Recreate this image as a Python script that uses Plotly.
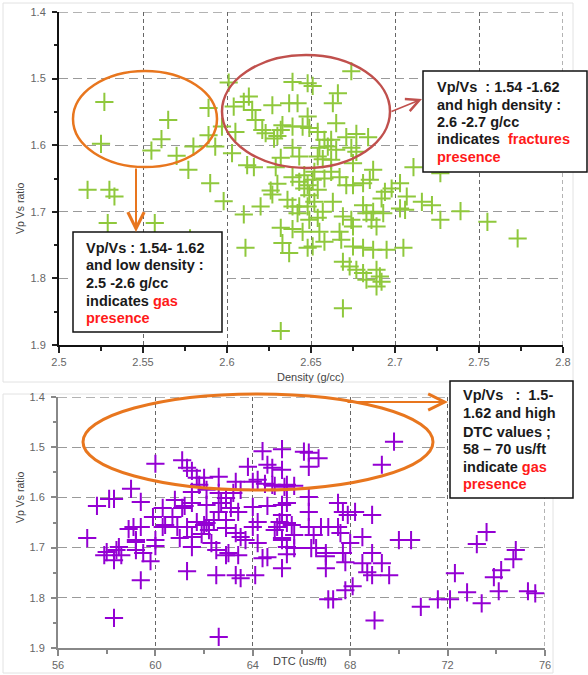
import plotly.graph_objects as go

# ---------------- data ----------------
density = [2.527, 2.525, 2.565, 2.561, 2.555, 2.570, 2.577, 2.580, 2.589, 2.589,
           2.593, 2.590, 2.597, 2.601, 2.604, 2.605, 2.603, 2.517, 2.530, 2.533,
           2.529, 2.557, 2.578, 2.561, 2.632, 2.598, 2.610, 2.611, 2.620, 2.627,
           2.626, 2.632, 2.633, 2.637, 2.639, 2.630, 2.639, 2.674, 2.639, 2.648,
           2.651, 2.666, 2.663, 2.613, 2.610, 2.615, 2.627, 2.637, 2.642, 2.648,
           2.617, 2.633, 2.639, 2.645, 2.649, 2.665, 2.621, 2.623, 2.632, 2.630,
           2.628, 2.654, 2.658, 2.662, 2.671, 2.677, 2.684, 2.655, 2.660, 2.665,
           2.674, 2.677, 2.632, 2.639, 2.643, 2.654, 2.657, 2.662, 2.675, 2.612,
           2.616, 2.629, 2.687, 2.645, 2.648, 2.651, 2.658, 2.668, 2.667, 2.655,
           2.639, 2.643, 2.648, 2.651, 2.654, 2.649, 2.652, 2.648, 2.643, 2.642,
           2.649, 2.654, 2.657, 2.663, 2.667, 2.671, 2.675, 2.681, 2.685, 2.669,
           2.674, 2.675, 2.681, 2.683, 2.686, 2.689, 2.687, 2.693, 2.675, 2.681,
           2.687, 2.695, 2.705, 2.669, 2.673, 2.677, 2.681, 2.689, 2.691, 2.689,
           2.692, 2.683, 2.694, 2.698, 2.703, 2.703, 2.692, 2.755, 2.773, 2.739,
           2.727, 2.722, 2.716, 2.707, 2.706, 2.669, 2.727, 2.711, 2.646, 2.652,
           2.658, 2.662, 2.636, 2.646]
vpvs_density = [1.535, 1.598, 1.562, 1.591, 1.608, 1.616, 1.637, 1.602, 1.544, 1.585,
                1.602, 1.657, 1.572, 1.506, 1.542, 1.580, 1.612, 1.667, 1.667, 1.677,
                1.717, 1.717, 1.740, 1.841, 1.879, 1.684, 1.704, 1.754, 1.692, 1.674,
                1.668, 1.724, 1.747, 1.762, 1.726, 1.658, 1.692, 1.489, 1.505, 1.507,
                1.511, 1.522, 1.537, 1.527, 1.535, 1.547, 1.540, 1.537, 1.537, 1.557,
                1.562, 1.570, 1.572, 1.572, 1.574, 1.567, 1.577, 1.582, 1.577, 1.586,
                1.590, 1.580, 1.592, 1.592, 1.588, 1.583, 1.588, 1.604, 1.602, 1.607,
                1.604, 1.610, 1.619, 1.604, 1.617, 1.617, 1.621, 1.622, 1.627, 1.630,
                1.633, 1.633, 1.637, 1.730, 1.754, 1.752, 1.745, 1.742, 1.730, 1.730,
                1.648, 1.655, 1.660, 1.652, 1.667, 1.675, 1.685, 1.692, 1.692, 1.702,
                1.712, 1.709, 1.700, 1.685, 1.648, 1.660, 1.660, 1.657, 1.652, 1.707,
                1.712, 1.722, 1.690, 1.702, 1.712, 1.722, 1.700, 1.702, 1.752, 1.754,
                1.757, 1.757, 1.754, 1.775, 1.782, 1.787, 1.792, 1.787, 1.797, 1.812,
                1.805, 1.802, 1.670, 1.665, 1.657, 1.695, 1.680, 1.715, 1.740, 1.699,
                1.712, 1.690, 1.685, 1.677, 1.697, 1.845, 1.642, 1.633, 1.645, 1.640,
                1.650, 1.640, 1.682, 1.665]

dtc = [57.6, 58.1, 58.3, 59.0, 59.4, 60.0, 61.1, 61.3, 61.5, 61.7,
       62.0, 62.6, 61.8, 63.8, 64.4, 65.2, 64.6, 64.8, 65.2, 63.3,
       64.2, 64.5, 64.9, 65.3, 65.7, 61.5, 62.1, 62.6, 63.2, 62.9,
       63.5, 60.8, 61.1, 61.2, 60.3, 59.9, 60.7, 61.5, 62.1, 62.6,
       62.7, 63.1, 63.4, 64.0, 64.6, 65.2, 65.2, 62.4, 62.9, 62.1,
       61.7, 64.2, 64.0, 65.0, 65.4, 59.1, 59.4, 60.3, 60.9, 61.3,
       62.0, 62.9, 57.2, 58.9, 59.2, 60.0, 60.4, 61.0, 61.5, 61.9,
       62.2, 63.3, 63.5, 63.7, 57.9, 58.4, 58.6, 59.2, 59.5, 60.0,
       61.5, 62.3, 63.0, 63.4, 58.0, 58.3, 58.5, 59.2, 59.8, 59.4,
       58.3, 62.6, 61.3, 62.5, 63.3, 63.5, 64.1, 62.5, 62.9, 64.2,
       64.4, 64.6, 65.2, 65.4, 65.7, 65.2, 69.8, 69.3, 66.1, 66.3,
       66.7, 66.3, 65.4, 66.3, 67.5, 68.2, 68.9, 67.7, 67.9, 66.3,
       65.4, 65.1, 65.6, 66.3, 66.8, 67.1, 67.5, 67.6, 66.5, 65.7,
       64.9, 65.2, 68.5, 70.0, 70.5, 68.0, 66.4, 67.0, 67.7, 68.9,
       65.4, 73.6, 73.2, 74.8, 74.7, 74.2, 73.9, 72.3, 72.8, 74.1,
       75.3, 75.6, 73.4, 72.1, 71.6, 70.9, 69.0, 68.1, 67.8, 67.3,
       67.1, 69.3, 69.6, 68.9, 68.5, 68.7, 67.8, 67.0, 67.0, 66.6,
       64.0, 64.8]
vpvs_dtc = [1.617, 1.603, 1.603, 1.583, 1.609, 1.533, 1.526, 1.541, 1.547, 1.561,
            1.561, 1.559, 1.575, 1.539, 1.508, 1.504, 1.535, 1.541, 1.545, 1.569,
            1.565, 1.573, 1.577, 1.579, 1.577, 1.589, 1.585, 1.591, 1.591, 1.601,
            1.585, 1.605, 1.621, 1.617, 1.621, 1.639, 1.639, 1.611, 1.615, 1.629,
            1.611, 1.621, 1.629, 1.619, 1.617, 1.615, 1.635, 1.645, 1.645, 1.651,
            1.649, 1.649, 1.659, 1.659, 1.651, 1.659, 1.659, 1.659, 1.659, 1.659,
            1.655, 1.661, 1.681, 1.663, 1.685, 1.685, 1.655, 1.681, 1.679, 1.673,
            1.665, 1.671, 1.679, 1.685, 1.715, 1.705, 1.715, 1.705, 1.711, 1.697,
            1.699, 1.691, 1.711, 1.715, 1.709, 1.725, 1.699, 1.689, 1.727, 1.765,
            1.840, 1.878, 1.747, 1.755, 1.755, 1.761, 1.755, 1.705, 1.715, 1.691,
            1.721, 1.719, 1.741, 1.713, 1.701, 1.681, 1.489, 1.535, 1.509, 1.511,
            1.522, 1.539, 1.575, 1.599, 1.611, 1.629, 1.635, 1.629, 1.635, 1.629,
            1.611, 1.649, 1.655, 1.659, 1.659, 1.659, 1.659, 1.671, 1.675, 1.675,
            1.665, 1.685, 1.679, 1.685, 1.685, 1.691, 1.701, 1.711, 1.711, 1.711,
            1.699, 1.669, 1.693, 1.705, 1.723, 1.745, 1.759, 1.751, 1.789, 1.787,
            1.787, 1.791, 1.811, 1.803, 1.803, 1.818, 1.845, 1.777, 1.785, 1.803,
            1.803, 1.731, 1.755, 1.755, 1.731, 1.749, 1.729, 1.717, 1.741, 1.701,
            1.569, 1.575]

density_ticks = [2.5, 2.55, 2.6, 2.65, 2.7, 2.75, 2.8]
dtc_ticks = [56, 60, 64, 68, 72, 76]
ratio_ticks = [1.4, 1.5, 1.6, 1.7, 1.8, 1.9]

# ---------------- layout helpers ----------------
W, H = 588, 675


def px(x):
    return x / W


def py(y):
    return 1 - y / H


GREEN = "#8FC83C"
PURPLE = "#9400D3"
ORANGE = "#E8761E"
DARKRED = "#C0504D"
VGRID = dict(color="#666", width=1, dash="4px,3px")
HGRID = dict(color="#9a9a9a", width=1.3, dash="9px,5px")

fig = go.Figure()
fig.add_trace(go.Scatter(
    x=density, y=vpvs_density, mode="markers", xaxis="x", yaxis="y",
    marker=dict(symbol="cross-thin", size=13, line=dict(color=GREEN, width=2)),
    showlegend=False))
fig.add_trace(go.Scatter(
    x=dtc, y=vpvs_dtc, mode="markers", xaxis="x2", yaxis="y2",
    marker=dict(symbol="cross-thin", size=13, line=dict(color=PURPLE, width=2)),
    showlegend=False))

tickfont = dict(family="Liberation Sans, Arial", size=11, color="#666")
common_x = dict(ticks="outside", ticklen=6, tickcolor="#222", tickwidth=2,
                showline=True, linewidth=2, showgrid=True,
                gridcolor=VGRID["color"], gridwidth=VGRID["width"], griddash=VGRID["dash"],
                zeroline=False, tickfont=tickfont, automargin=False)
common_y = dict(ticks="outside", ticklen=5, tickcolor="#222", tickwidth=1.5,
                showline=True, linewidth=2, showgrid=True,
                gridcolor=HGRID["color"], gridwidth=HGRID["width"], griddash=HGRID["dash"],
                zeroline=False, tickfont=tickfont, ticklabelstandoff=4, automargin=False)

fig.update_layout(
    width=W, height=H, margin=dict(l=0, r=0, t=0, b=0, autoexpand=False),
    paper_bgcolor="white", plot_bgcolor="white",
    xaxis=dict(common_x, domain=[px(59), px(563)], range=[2.5, 2.8],
               tickvals=density_ticks, ticktext=[f"{v:g}" for v in density_ticks],
               linecolor="#111", anchor="y",
               minor=dict(tickvals=[2.525, 2.575, 2.625, 2.675, 2.725, 2.775],
                          ticks="outside", ticklen=4, tickcolor="#222", showgrid=False)),
    yaxis=dict(common_y, domain=[py(345), py(12)], range=[1.9, 1.4],
               tickvals=ratio_ticks, ticktext=[f"{v:g}" for v in ratio_ticks],
               linecolor="#111", anchor="x",
               minor=dict(tickvals=[1.45, 1.55, 1.65, 1.75, 1.85],
                          ticks="outside", ticklen=3, tickcolor="#222", showgrid=False)),
    xaxis2=dict(common_x, domain=[px(58), px(545)], range=[56, 76],
                tickvals=dtc_ticks, ticktext=[str(v) for v in dtc_ticks],
                linecolor="#888", tickcolor="#888", anchor="y2",
                minor=dict(tickvals=[58, 62, 66, 70, 74],
                           ticks="outside", ticklen=4, tickcolor="#888", showgrid=False)),
    yaxis2=dict(common_y, domain=[py(648), py(397)], range=[1.9, 1.4],
                tickvals=ratio_ticks, ticktext=[f"{v:g}" for v in ratio_ticks],
                linecolor="#888", tickcolor="#888", anchor="x2",
                minor=dict(tickvals=[1.45, 1.55, 1.65, 1.75, 1.85],
                           ticks="outside", ticklen=3, tickcolor="#888", showgrid=False)),
)

shapes = []
# panel borders
shapes.append(dict(type="rect", xref="paper", yref="paper", x0=px(3), x1=px(573),
                   y0=py(382), y1=py(3), line=dict(color="#e2e2e2", width=1), layer="below"))
shapes.append(dict(type="rect", xref="paper", yref="paper", x0=px(3), x1=px(553),
                   y0=py(673), y1=py(394), line=dict(color="#e2e2e2", width=1), layer="below"))
# grid lines at the far edges of each plot (top and right)
for xa, ya, xt, yt in [("x", "y", density_ticks, ratio_ticks), ("x2", "y2", dtc_ticks, ratio_ticks)]:
    shapes.append(dict(type="line", xref=xa, yref=ya, x0=xt[0], x1=xt[-1], y0=yt[0], y1=yt[0],
                       line=HGRID, layer="below"))
    shapes.append(dict(type="line", xref=xa, yref=ya, x0=xt[-1], x1=xt[-1], y0=yt[0], y1=yt[-1],
                       line=VGRID, layer="below"))
# ellipses
shapes.append(dict(type="circle", xref="paper", yref="paper", x0=px(73), x1=px(217),
                   y0=py(167), y1=py(71), line=dict(color=ORANGE, width=2.5)))
shapes.append(dict(type="circle", xref="paper", yref="paper", x0=px(222), x1=px(390),
                   y0=py(168), y1=py(55), line=dict(color=DARKRED, width=2.5)))
shapes.append(dict(type="circle", xref="paper", yref="paper", x0=px(83), x1=px(433),
                   y0=py(490), y1=py(394), line=dict(color=ORANGE, width=3)))
# text boxes
for (x0, y0, x1, y1) in [(423, 71, 587, 172), (73, 232, 222, 332), (450, 381, 573, 498)]:
    shapes.append(dict(type="rect", xref="paper", yref="paper", x0=px(x0), x1=px(x1),
                       y0=py(y1), y1=py(y0), line=dict(color="#111", width=1.5),
                       fillcolor="white"))
fig.update_layout(shapes=shapes)

ann = []
# arrows
ann.append(dict(xref="paper", yref="paper", x=px(136), y=py(232), ax=0, ay=-65,
                showarrow=True, arrowhead=5, arrowsize=1.6, arrowwidth=2,
                arrowcolor=ORANGE, text=""))
ann.append(dict(xref="paper", yref="paper", x=px(422), y=py(99), ax=-32, ay=13,
                showarrow=True, arrowhead=5, arrowsize=1.6, arrowwidth=1.6,
                arrowcolor=DARKRED, text=""))
ann.append(dict(xref="paper", yref="paper", x=px(448), y=py(402), ax=-102, ay=0,
                showarrow=True, arrowhead=5, arrowsize=1.6, arrowwidth=2,
                arrowcolor=ORANGE, text=""))

RED = "<span style='color:#FF1A1A'>{}</span>"
box_font = dict(family="Liberation Sans, Arial", size=14.5, color="#1a1a1a")


def add_lines(x, ys, lines):
    for yy, t in zip(ys, lines):
        ann.append(dict(xref="paper", yref="paper", x=px(x), y=py(yy), xanchor="left",
                        yanchor="middle", showarrow=False, text="<b>" + t + "</b>",
                        font=box_font))


add_lines(435, [87, 105, 122, 139, 157],
          ["Vp/Vs&nbsp;&nbsp;: 1.54 -1.62", "and high density :", "2.6 -2.7 g/cc",
           "indicates&nbsp;&nbsp;" + RED.format("fractures"), RED.format("presence")])
add_lines(84, [248, 265, 283, 301, 318],
          ["Vp/Vs : 1.54- 1.62", "and low density :", "2.5 -2.6 g/cc",
           "indicates " + RED.format("gas"), RED.format("presence")])
add_lines(461, [395, 413, 432, 449, 467, 484],
          ["Vp/Vs&nbsp;&nbsp;&nbsp;:&nbsp;&nbsp;1.5-", "1.62 and high", "DTC values ;",
           "58 – 70 us/ft", "indicate " + RED.format("gas"), RED.format("presence")])

# axis titles
title_font = dict(family="Liberation Sans, Arial", size=10.5, color="#444")
ann.append(dict(xref="paper", yref="paper", x=px(12), y=py(180), text="Vp Vs ratio",
                textangle=-90, showarrow=False, font=title_font))
ann.append(dict(xref="paper", yref="paper", x=px(12), y=py(525), text="Vp Vs ratio",
                textangle=-90, showarrow=False, font=title_font))
ann.append(dict(xref="paper", yref="paper", x=px(310), y=py(377), text="Density (g/cc)",
                showarrow=False, font=dict(title_font, size=11)))
ann.append(dict(xref="paper", yref="paper", x=px(300), y=py(669), text="DTC (us/ft)",
                showarrow=False, font=dict(title_font, size=11)))
fig.update_layout(annotations=ann)

fig.write_html("out.html")
